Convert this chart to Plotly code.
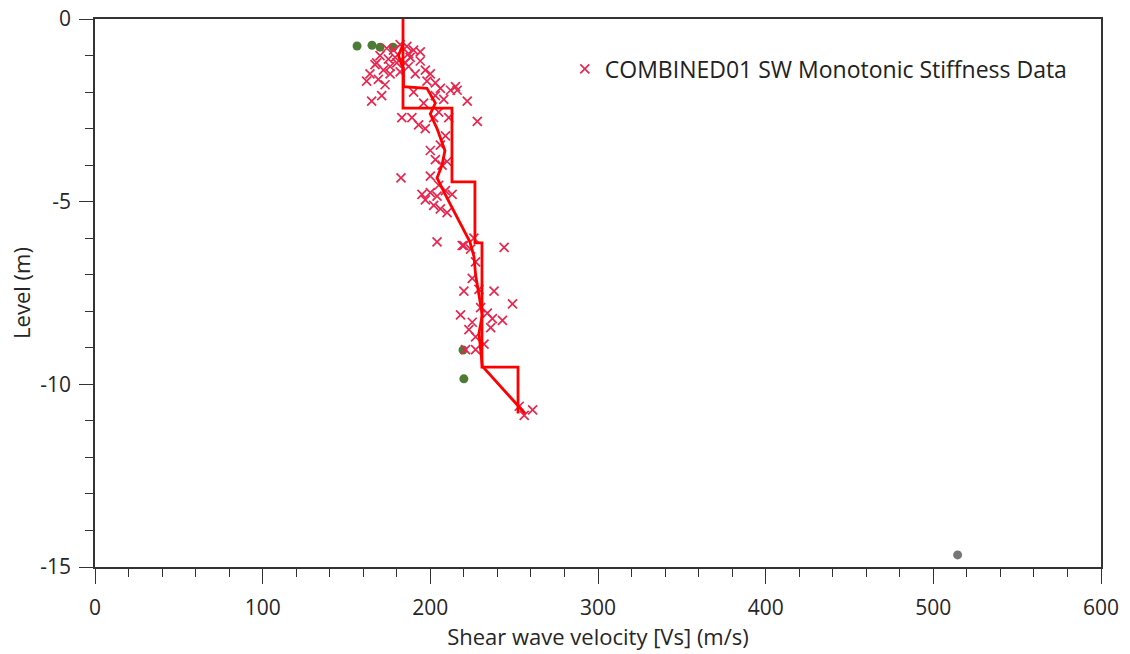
import plotly.graph_objects as go

# Measured data (Vs in m/s, level in m)
data_vs = [174, 178, 182, 186, 190, 194, 170, 175, 179, 188, 194, 167, 172, 164, 169, 162,
           176, 182, 187, 191, 197, 200, 198, 203, 206, 203, 208, 212, 215, 216, 222, 228,
           165, 171, 183, 187, 180, 185, 176, 168, 173, 190, 196,
           182.5, 189, 193, 197, 202, 205, 211, 209, 206, 200, 203, 207, 210, 200, 205, 209,
           213, 200, 197, 202, 206, 204, 195, 210,
           204, 244, 220, 224, 227, 225, 229, 219, 226,
           220, 238, 218, 230, 234, 237, 243, 249, 223, 227, 236, 221, 227, 232, 225,
           261, 256, 253]
data_level = [-0.8, -0.85, -0.7, -0.75, -0.85, -0.9, -1.0, -1.1, -1.05, -1.05, -1.15, -1.25, -1.4, -1.5, -1.65, -1.7,
              -1.5, -1.45, -1.3, -1.5, -1.4, -1.5, -1.7, -1.75, -1.9, -2.1, -2.2, -1.95, -1.85, -1.95, -2.25, -2.8,
              -2.25, -2.1, -2.7, -0.95, -1.2, -1.2, -1.3, -1.2, -1.8, -2.0, -2.3,
              -4.35, -2.7, -2.9, -3.0, -2.7, -2.55, -2.7, -3.2, -3.45, -3.6, -3.85, -4.0, -3.9, -4.3, -4.55, -4.7,
              -4.8, -4.75, -4.95, -5.1, -5.2, -4.85, -4.8, -5.3,
              -6.1, -6.25, -6.2, -6.3, -6.65, -7.1, -7.4, -6.2, -6.0,
              -7.45, -7.45, -8.1, -7.9, -8.05, -8.2, -8.25, -7.8, -8.5, -8.7, -8.45, -9.05, -9.05, -8.9, -8.3,
              -10.7, -10.85, -10.6]

# Design step profile
step_vs = [183.7, 183.7, 212.9, 212.9, 226.6, 226.6, 230.8, 230.8, 252.3, 252.3]
step_level = [0, -2.44, -2.44, -4.46, -4.46, -6.13, -6.13, -9.53, -9.53, -10.8]

# Trend line through data
trend_vs = [183.7, 181, 184, 184, 198, 203, 200, 204, 208.7, 207, 204, 210, 223.6, 226, 227, 229, 231, 229, 230, 231, 256.5]
trend_level = [-0.7, -1.0, -1.4, -1.85, -1.9, -2.3, -2.6, -3.0, -3.6, -4.0, -4.35, -4.9, -6.1, -6.5, -7.0, -7.6, -8.1, -8.6, -9.1, -9.5, -10.8]

# Other points
green_vs = [156.3, 165.2, 170, 177.8, 219.5, 220]
green_level = [-0.74, -0.72, -0.77, -0.77, -9.06, -9.85]
gray_vs = [514.5]
gray_level = [-14.67]

x_ticks = [0, 100, 200, 300, 400, 500, 600]
y_ticks = [0, -5, -10, -15]
y_tick_text = ["0", "-5", "-10", "-15"]

fig = go.Figure()
fig.add_trace(go.Scatter(x=green_vs, y=green_level, mode="markers",
                         marker=dict(color="#4d7a35", size=9), showlegend=False))
fig.add_trace(go.Scatter(x=gray_vs, y=gray_level, mode="markers",
                         marker=dict(color="#777777", size=9), showlegend=False))
fig.add_trace(go.Scatter(x=data_vs, y=data_level, mode="markers",
                         name="COMBINED01 SW Monotonic Stiffness Data",
                         marker=dict(symbol="x-thin", size=9, color="#e8264f",
                                     line=dict(color="#e8264f", width=1.7))))
fig.add_trace(go.Scatter(x=step_vs, y=step_level, mode="lines",
                         line=dict(color="#ff0000", width=2.8), showlegend=False))
fig.add_trace(go.Scatter(x=trend_vs, y=trend_level, mode="lines",
                         line=dict(color="#ff0000", width=2.8), showlegend=False))

tick_font = dict(family="Open Sans", size=21, color="#262626")
title_font = dict(family="Open Sans", size=22, color="#262626")
fig.update_layout(
    width=1130, height=654,
    margin=dict(l=95, r=29, t=19, b=87, autoexpand=False),
    paper_bgcolor="white", plot_bgcolor="white",
    font=dict(family="Open Sans", size=20, color="#222222"),
    legend=dict(x=0.467, y=0.909, xanchor="left", yanchor="middle",
                bgcolor="rgba(0,0,0,0)", font=dict(size=23, color="#222222")),
    xaxis=dict(range=[0, 600], tickvals=x_ticks, showgrid=False, zeroline=False, automargin=False,
               showline=True, linecolor="#333333", linewidth=1.5, mirror=True,
               ticks="outside", ticklen=15, tickcolor="#333333", ticklabelstandoff=6,
               minor=dict(dtick=20, ticks="outside", ticklen=8, tickcolor="#333333"),
               tickfont=tick_font,
               title=dict(text="Shear wave velocity [Vs] (m/s)", font=title_font, standoff=6)),
    yaxis=dict(range=[-15, 0], tickvals=y_ticks, ticktext=y_tick_text, showgrid=False, zeroline=False,
               automargin=False,
               showline=True, linecolor="#333333", linewidth=1.5, mirror=True,
               ticks="outside", ticklen=14, tickcolor="#333333", ticklabelstandoff=4,
               minor=dict(dtick=1, ticks="outside", ticklen=8, tickcolor="#333333"),
               tickfont=tick_font,
               title=dict(text="Level (m)", font=title_font, standoff=4)),
)

fig.write_html("out.html")
